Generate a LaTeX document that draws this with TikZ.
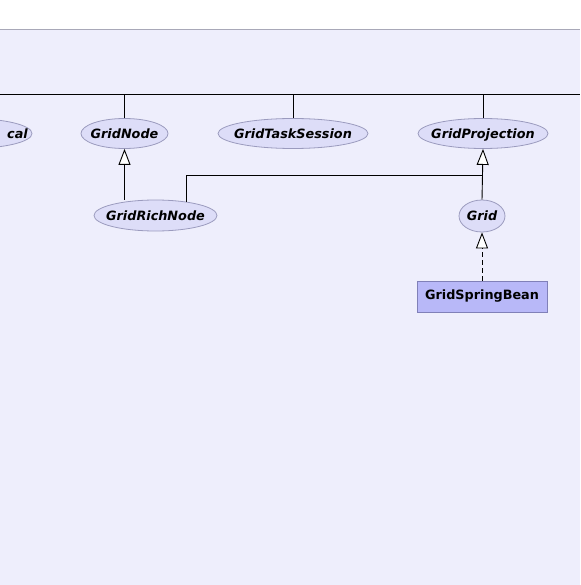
\documentclass[tikz,border=0pt]{standalone}
\usepackage{fontspec}
\newfontfamily\dvs{DejaVu Sans}
\usetikzlibrary{arrows.meta,shapes.geometric}
\definecolor{bgc}{RGB}{238,238,252}
\definecolor{topline}{RGB}{168,168,184}
\definecolor{ellfill}{RGB}{221,221,248}
\definecolor{elldraw}{RGB}{155,155,190}
\definecolor{rectfill}{RGB}{184,184,248}
\definecolor{rectdraw}{RGB}{128,128,184}
\tikzset{
  lbl/.style={font=\dvs\fontsize{12.8}{15}\selectfont\bfseries\itshape, anchor=base, yshift=-4.6pt, inner sep=0pt},
  iface/.style={ellipse, draw=elldraw, fill=ellfill, inner sep=0pt, line width=0.8pt},
  cls/.style={rectangle, draw=rectdraw, fill=rectfill, inner sep=0pt, line width=0.8pt,
    font=\dvs\fontsize{12.8}{15}\selectfont\bfseries},
  conn/.style={draw=black, line width=0.9pt},
  gen/.style={conn, -{Triangle[length=16pt,width=12pt,fill=white]}},
  impl/.style={gen, dash pattern=on 5pt off 3pt},
}
\begin{document}
\begin{tikzpicture}[x=1pt,y=-1pt]
\useasboundingbox (0,0) rectangle (580,585);
\clip (0,0) rectangle (580,585);
\fill[white] (0,0) rectangle (580,29);
\fill[bgc] (0,29) rectangle (580,585);
\draw[topline, line width=0.8pt] (0,29) -- (580,29);

% top bus
\coordinate (busL) at (0,94);
\coordinate (busR) at (580,94);
\draw[conn] (busL) -- (busR);

% nodes
\node[iface, minimum width=124pt, minimum height=30pt] (local) at (-30,133.5) {};
\node[lbl, anchor=base east] (localtxt) at (28,133.5) {cal};
\node[iface, minimum width=87pt, minimum height=30pt] (gnode) at (124.5,133.5) {};
\node[lbl] (gnodetxt) at (gnode.center) {GridNode};
\node[iface, minimum width=150pt, minimum height=30pt] (gts) at (293,133.5) {};
\node[lbl] (gtstxt) at (gts.center) {GridTaskSession};
\node[iface, minimum width=130pt, minimum height=30pt] (gproj) at (483,133.5) {};
\node[lbl] (gprojtxt) at (gproj.center) {GridProjection};
\node[iface, minimum width=123pt, minimum height=31pt] (grich) at (155.5,215.5) {};
\node[lbl] (grichtxt) at (grich.center) {GridRichNode};
\node[iface, minimum width=46pt, minimum height=32pt] (grid) at (482,216) {};
\node[lbl] (gridtxt) at (grid.center) {Grid};
\node[cls, minimum width=130pt, minimum height=31pt] (gsb) at (482,296.5) {GridSpringBean};

% bus drops
\draw[conn] (gnode.north) -- (gnode.north |- busL);
\draw[conn] (gts.north) -- (gts.north |- busL);
\draw[conn] (gproj.north) -- (gproj.north |- busL);

% generalizations
\draw[gen] (grich.north -| gnode.south) -- (gnode.south);
\coordinate (join) at (482,175);
\draw[conn] (grich.24) |- (join);
\draw[gen] (grid.north) -- (gproj.south);
\draw[impl] (gsb.north) -- (grid.south);
\end{tikzpicture}
\end{document}
